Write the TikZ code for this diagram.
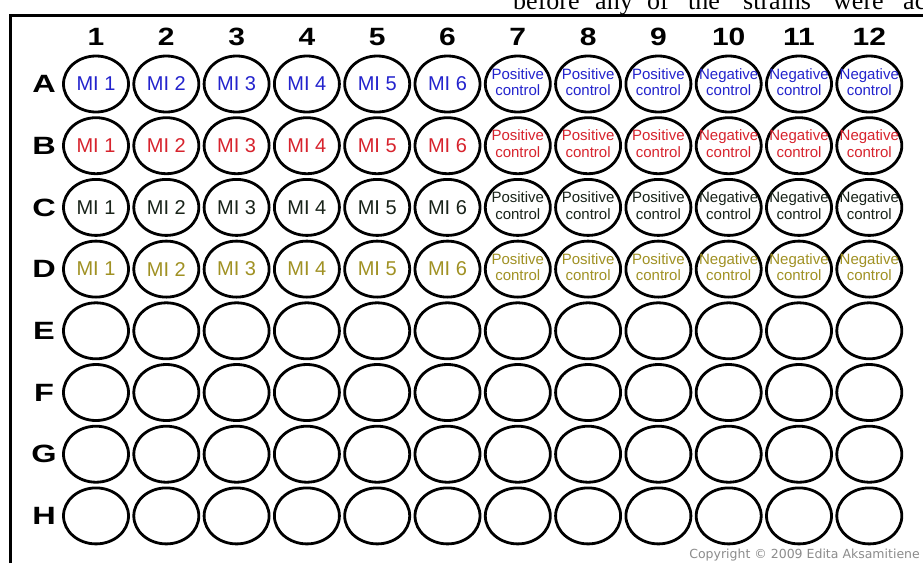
\documentclass[tikz,border=0pt]{standalone}
\usepackage{fontspec}
\setmainfont{Liberation Sans}
\newfontfamily\runningtext{Liberation Serif}
\newfontfamily\notefont{DejaVu Sans}
\usetikzlibrary{shapes.geometric}
\definecolor{rowa}{RGB}{35,35,205}
\definecolor{rowb}{RGB}{215,35,45}
\definecolor{rowc}{RGB}{25,35,25}
\definecolor{rowd}{RGB}{160,145,35}
\tikzset{
  well/.style={draw, ellipse, line width=2.8pt, minimum width=65pt, minimum height=56pt, inner sep=0pt},
  mi/.style={font=\fontsize{20}{22}\selectfont, inner sep=0pt},
  ctrl/.style={font=\fontsize{15}{16.5}\selectfont, align=center, inner sep=0pt},
  head/.style={font=\bfseries\fontsize{25}{27}\selectfont, inner sep=0pt},
  runword/.style={anchor=base west, font=\runningtext\fontsize{26}{28}\selectfont, inner sep=0pt}
}
\begin{document}
\begin{tikzpicture}[x=1pt,y=-1pt]
\clip (0,0) rectangle (923,563);
\fill[white] (0,0) rectangle (923,563);
% line of text above the plate, cut off
\node[runword] (w1) at (513,9) {before};
\node[runword] (w2) at (595,9) {any};
\node[runword] (w3) at (647,9) {of};
\node[runword] (w4) at (688,9) {the};
\node[runword] (w5) at (743,9) {strains};
\node[runword] (w6) at (833,9) {were};
\node[runword] (w7) at (903,9) {ac};
% plate frame
\draw[line width=3pt] (10,563) -- (10,15) -- (923,15);
% column numbers and row letters
\foreach \c in {1,...,12}
  \node[head] (col\c) at ({96+(\c-1)*70.3},37) {\scalebox{1.2}[1]{\c}};
\foreach \r [count=\i] in {A,B,C,D,E,F,G,H}
  \node[head] (row\r) at (44,{84+(\i-1)*61.7}) {\scalebox{1.3}[1]{\r}};
% wells
\foreach \r [count=\i] in {A,B,C,D,E,F,G,H}
  \foreach \c in {1,...,12}
    \node[well] (\r\c) at ({96+(\c-1)*70.3},{84+(\i-1)*61.7}) {};
% samples and controls
\foreach \r/\col in {A/rowa,B/rowb,C/rowc,D/rowd} {
  \foreach \c in {1,...,6}
    \node[mi, text=\col] (t\r\c) at (\r\c) {MI \c};
  \foreach \c in {7,8,9}
    \node[ctrl, text=\col] (t\r\c) at ([yshift=2pt]\r\c) {Positive\\control};
  \foreach \c in {10,11,12}
    \node[ctrl, text=\col] (t\r\c) at ([yshift=2pt]\r\c) {Negative\\control};
}
\node[anchor=base east, font=\notefont\fontsize{12.5}{14}\selectfont, text=black!45, inner sep=0pt] (copy) at (920,558) {Copyright © 2009 Edita Aksamitiene};
\end{tikzpicture}
\end{document}
